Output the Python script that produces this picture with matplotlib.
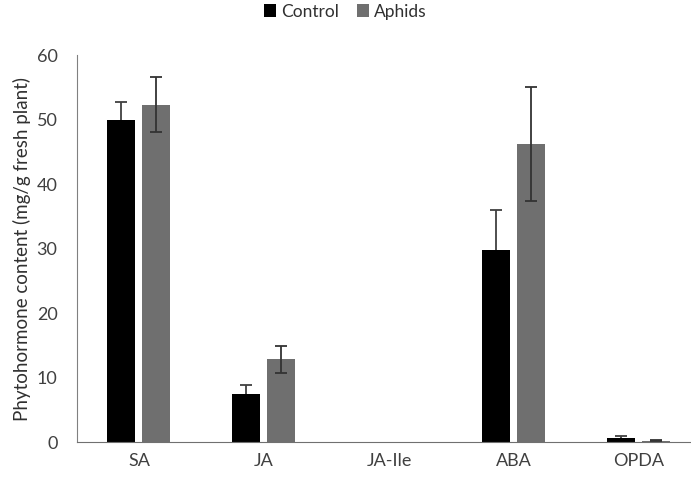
import numpy as np
import matplotlib
matplotlib.use('Agg')
import matplotlib.pyplot as plt

plt.rcParams['font.family'] = ['Lato', 'DejaVu Sans']

hormones = ['SA', 'JA', 'JA-Ile', 'ABA', 'OPDA']
control = [50.0, 7.5, 0.0, 29.8, 0.65]
control_err = [2.8, 1.3, np.nan, 6.2, 0.3]
aphids = [52.3, 12.8, 0.0, 46.2, 0.2]
aphids_err = [4.3, 2.1, np.nan, 8.8, 0.1]

x = np.arange(len(hormones))
w = 0.224
off = 0.14

fig = plt.figure(figsize=(6.91, 4.79), dpi=100)
ax = fig.add_axes([0.1114, 0.0772, 0.8886, 0.8078])

ekw_c = dict(ecolor='#404040', elinewidth=1.3, capsize=4, capthick=1.3, zorder=1)
ekw_a = dict(ecolor='#333333', elinewidth=1.3, capsize=4, capthick=1.3, zorder=3)
ax.bar(x - off, control, w, color='black', label='Control', zorder=2,
       yerr=control_err, error_kw=ekw_c)
ax.bar(x + off, aphids, w, color='#6f6f6f', label='Aphids', zorder=2,
       yerr=aphids_err, error_kw=ekw_a)

ax.set_xlim(-0.496, 4.416)
ax.set_ylim(0, 60)
ax.set_yticks(np.arange(0, 61, 10))
ax.set_xticks(x)
ax.set_xticklabels(hormones)
ax.tick_params(length=0, labelsize=13, colors='#404040', pad=8)
ax.tick_params(axis='y', pad=14)
ax.set_ylabel('Phytohormone content (mg/g fresh plant)', fontsize=13.5, color='#303030')

for s in ['top', 'right']:
    ax.spines[s].set_visible(False)
ax.spines['left'].set_color('#808080')
ax.spines['bottom'].set_color('#707070')

fig.legend(loc='upper center', bbox_to_anchor=(0.5, 1.025), ncol=2, frameon=False,
           fontsize=12.5, handlelength=0.7, handleheight=0.7, handletextpad=0.3,
           columnspacing=1.0, labelcolor='#303030')

plt.savefig('out.png', dpi=100)
